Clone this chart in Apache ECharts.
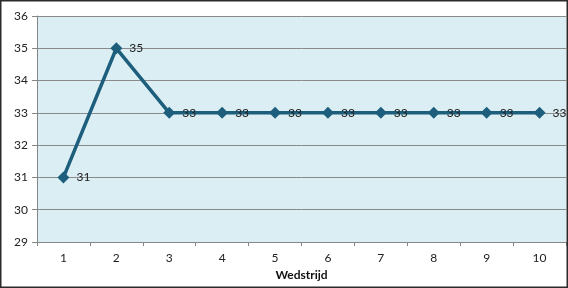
<!DOCTYPE html>
<html><head><meta charset="utf-8">
<script src="https://cdn.jsdelivr.net/npm/echarts@6/dist/echarts.min.js"></script>
<style>html,body{margin:0;padding:0;background:#fff}#c{width:568px;height:288px}</style>
</head><body><div id="c"></div>
<script>
const categories = ['1','2','3','4','5','6','7','8','9','10'];
const values = [31,35,33,33,33,33,33,33,33,33];
const xAxisTitle = 'Wedstrijd';
const yMin = 29, yMax = 36, yStep = 1;

const chart = echarts.init(document.getElementById('c'), null, {renderer:'canvas'});
const font = 'Lato, "Open Sans", sans-serif';
chart.setOption({
  animation:false,
  backgroundColor:'#ffffff',
  grid:{left:37,right:2,top:16,bottom:46,show:true,backgroundColor:'#DBEEF4',borderWidth:0},
  xAxis:{
    type:'category',data:categories,boundaryGap:true,
    name:xAxisTitle,nameLocation:'middle',nameGap:23,
    nameTextStyle:{fontFamily:font,fontWeight:'bold',fontSize:12,color:'#111'},
    axisLine:{lineStyle:{color:'#868686',width:1}},
    axisTick:{show:true,alignWithLabel:false,length:4,lineStyle:{color:'#868686'}},
    axisLabel:{fontFamily:font,fontSize:12,color:'#222',margin:10}
  },
  yAxis:{
    type:'value',min:yMin,max:yMax,interval:yStep,
    axisLine:{show:true,lineStyle:{color:'#868686',width:1}},
    axisTick:{show:true,length:5,lineStyle:{color:'#868686'}},
    splitLine:{show:true,lineStyle:{color:'#8a8a8a',width:1}},
    axisLabel:{fontFamily:font,fontSize:12,color:'#222',margin:9}
  },
  series:[{
    type:'line',data:values,
    symbol:'diamond',symbolSize:12,
    lineStyle:{color:'#1C5E7C',width:3.5},
    itemStyle:{color:'#1C5E7C'},
    label:{show:true,position:'right',distance:7,fontFamily:font,fontSize:12,color:'#222'},
    z:5
  }],
  graphic:[{type:'rect',shape:{x:0.75,y:0.75,width:566.5,height:286.5},style:{fill:null,stroke:'#2b2b2b',lineWidth:1.5},silent:true,z:100}]
});
</script></body></html>
